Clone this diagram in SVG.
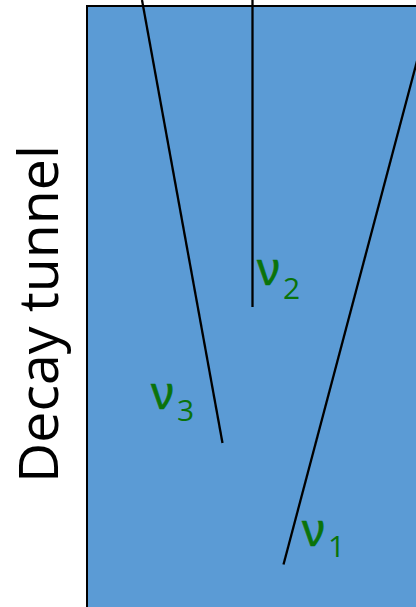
<svg xmlns="http://www.w3.org/2000/svg" width="416" height="607" viewBox="0 0 416 607">
<style>
.ln{stroke:#000;stroke-width:2.3;fill:none}
.nu{fill:#0a730a;font-family:"Liberation Sans","DejaVu Sans",sans-serif;stroke:#0a730a;stroke-width:0.6}
.sub{fill:#0a730a;font-family:"Open Sans","Liberation Sans",sans-serif}
</style>
<g id="tunnel">
<rect x="87" y="6" width="340" height="610" fill="#5b9bd5" stroke="#000" stroke-width="2"/>
</g>
<g id="label">
<text transform="translate(58,483) rotate(-90)" font-family="Open Sans, Liberation Sans, sans-serif" font-size="54" textLength="338" lengthAdjust="spacingAndGlyphs" fill="#000">Decay tunnel</text>
</g>
<g id="connectors">
<line class="ln" x1="142" y1="0" x2="222.5" y2="443"/>
<line class="ln" x1="252.5" y1="0" x2="252.5" y2="307"/>
<line class="ln" x1="417" y1="61" x2="283.5" y2="564.5"/>
</g>
<g id="nu2"><text class="nu" x="257" y="285" font-size="46">ν</text><text class="sub" x="283" y="299" font-size="30">2</text></g>
<g id="nu3"><text class="nu" x="151" y="409" font-size="46">ν</text><text class="sub" x="177" y="421" font-size="30">3</text></g>
<g id="nu1"><text class="nu" x="302" y="546" font-size="46">ν</text><text class="sub" x="328" y="557" font-size="30">1</text></g>
</svg>
